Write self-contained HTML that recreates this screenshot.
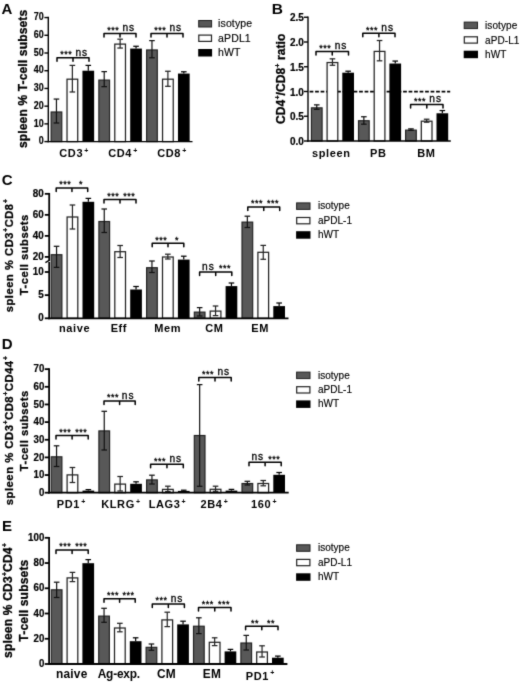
<!DOCTYPE html>
<html><head><meta charset="utf-8"><title>Figure</title>
<style>
html,body{margin:0;padding:0;background:#fff;}
body{width:520px;height:682px;overflow:hidden;}
svg{display:block;font-family:"Liberation Sans",sans-serif;fill:#000;}
</style></head><body>
<svg width="520" height="682" viewBox="0 0 520 682">
<defs><filter id="soft" x="0" y="0" width="520" height="682" filterUnits="userSpaceOnUse" color-interpolation-filters="sRGB"><feConvolveMatrix order="3" kernelMatrix="1 4 1 4 30 4 1 4 1" divisor="50" edgeMode="duplicate" preserveAlpha="true"/></filter></defs>
<g filter="url(#soft)">
<rect x="0" y="0" width="520" height="682" fill="#fff"/>
<text x="1.60" y="14.20" font-size="15" font-weight="bold" text-anchor="start" >A</text>
<text x="0" y="0" font-size="10.5" font-weight="bold" text-anchor="end" transform="translate(43.70 144.36) scale(0.85 1)" stroke="#000" stroke-width="0.2">0</text>
<text x="0" y="0" font-size="10.5" font-weight="bold" text-anchor="end" transform="translate(43.70 126.64) scale(0.85 1)" stroke="#000" stroke-width="0.2">10</text>
<text x="0" y="0" font-size="10.5" font-weight="bold" text-anchor="end" transform="translate(43.70 108.92) scale(0.85 1)" stroke="#000" stroke-width="0.2">20</text>
<text x="0" y="0" font-size="10.5" font-weight="bold" text-anchor="end" transform="translate(43.70 91.20) scale(0.85 1)" stroke="#000" stroke-width="0.2">30</text>
<text x="0" y="0" font-size="10.5" font-weight="bold" text-anchor="end" transform="translate(43.70 73.48) scale(0.85 1)" stroke="#000" stroke-width="0.2">40</text>
<text x="0" y="0" font-size="10.5" font-weight="bold" text-anchor="end" transform="translate(43.70 55.76) scale(0.85 1)" stroke="#000" stroke-width="0.2">50</text>
<text x="0" y="0" font-size="10.5" font-weight="bold" text-anchor="end" transform="translate(43.70 38.04) scale(0.85 1)" stroke="#000" stroke-width="0.2">60</text>
<text x="0" y="0" font-size="10.5" font-weight="bold" text-anchor="end" transform="translate(43.70 20.32) scale(0.85 1)" stroke="#000" stroke-width="0.2">70</text>
<rect x="51.10" y="111.98" width="10.70" height="29.62" fill="#585858" stroke="#202020" stroke-width="1.15"/>
<line x1="56.45" y1="99.07" x2="56.45" y2="122.99" stroke="#111" stroke-width="1.2" />
<line x1="53.65" y1="99.07" x2="59.25" y2="99.07" stroke="#111" stroke-width="1.25" />
<line x1="53.65" y1="122.99" x2="59.25" y2="122.99" stroke="#111" stroke-width="1.25" />
<rect x="67.02" y="79.19" width="10.70" height="62.41" fill="#fff" stroke="#222" stroke-width="1.25"/>
<line x1="72.37" y1="65.40" x2="72.37" y2="91.98" stroke="#222" stroke-width="1.2" />
<line x1="69.57" y1="65.40" x2="75.17" y2="65.40" stroke="#222" stroke-width="1.25" />
<line x1="69.57" y1="91.98" x2="75.17" y2="91.98" stroke="#222" stroke-width="1.25" />
<rect x="82.44" y="70.72" width="11.70" height="70.88" fill="#000"/>
<line x1="88.29" y1="65.40" x2="88.29" y2="70.72" stroke="#000" stroke-width="1.2" />
<line x1="85.49" y1="65.40" x2="91.09" y2="65.40" stroke="#000" stroke-width="1.25" />
<rect x="98.86" y="80.08" width="10.70" height="61.52" fill="#585858" stroke="#202020" stroke-width="1.15"/>
<line x1="104.21" y1="71.61" x2="104.21" y2="86.67" stroke="#111" stroke-width="1.2" />
<line x1="101.41" y1="71.61" x2="107.01" y2="71.61" stroke="#111" stroke-width="1.25" />
<line x1="101.41" y1="86.67" x2="107.01" y2="86.67" stroke="#111" stroke-width="1.25" />
<rect x="114.78" y="44.11" width="10.70" height="97.49" fill="#fff" stroke="#222" stroke-width="1.25"/>
<line x1="120.13" y1="39.18" x2="120.13" y2="48.04" stroke="#222" stroke-width="1.2" />
<line x1="117.33" y1="39.18" x2="122.93" y2="39.18" stroke="#222" stroke-width="1.25" />
<line x1="117.33" y1="48.04" x2="122.93" y2="48.04" stroke="#222" stroke-width="1.25" />
<rect x="130.20" y="48.57" width="11.70" height="93.03" fill="#000"/>
<line x1="136.05" y1="46.27" x2="136.05" y2="48.57" stroke="#000" stroke-width="1.2" />
<line x1="133.25" y1="46.27" x2="138.85" y2="46.27" stroke="#000" stroke-width="1.25" />
<rect x="146.62" y="49.96" width="10.70" height="91.64" fill="#585858" stroke="#202020" stroke-width="1.15"/>
<line x1="151.97" y1="40.60" x2="151.97" y2="57.78" stroke="#111" stroke-width="1.2" />
<line x1="149.17" y1="40.60" x2="154.77" y2="40.60" stroke="#111" stroke-width="1.25" />
<line x1="149.17" y1="57.78" x2="154.77" y2="57.78" stroke="#111" stroke-width="1.25" />
<rect x="162.54" y="79.19" width="10.70" height="62.41" fill="#fff" stroke="#222" stroke-width="1.25"/>
<line x1="167.89" y1="71.25" x2="167.89" y2="86.31" stroke="#222" stroke-width="1.2" />
<line x1="165.09" y1="71.25" x2="170.69" y2="71.25" stroke="#222" stroke-width="1.25" />
<line x1="165.09" y1="86.31" x2="170.69" y2="86.31" stroke="#222" stroke-width="1.25" />
<rect x="177.96" y="73.56" width="11.70" height="68.04" fill="#000"/>
<line x1="183.81" y1="71.78" x2="183.81" y2="73.56" stroke="#000" stroke-width="1.2" />
<line x1="181.01" y1="71.78" x2="186.61" y2="71.78" stroke="#000" stroke-width="1.25" />
<path d="M57.00 61.20 V57.70 H89.00 V61.20 M73.00 57.70 V61.20" fill="none" stroke="#000" stroke-width="1.5" stroke-linejoin="round" stroke-linecap="round"/>
<text x="66.20" y="57.00" font-size="9" font-weight="normal" text-anchor="middle" letter-spacing="0.5" stroke="#000" stroke-width="0.3">***</text>
<text x="81.70" y="55.50" font-size="10.2" font-weight="normal" text-anchor="middle" letter-spacing="0.9" stroke="#000" stroke-width="0.3">ns</text>
<path d="M104.00 37.00 V33.50 H136.00 V37.00 M120.00 33.50 V37.00" fill="none" stroke="#000" stroke-width="1.5" stroke-linejoin="round" stroke-linecap="round"/>
<text x="113.20" y="32.80" font-size="9" font-weight="normal" text-anchor="middle" letter-spacing="0.5" stroke="#000" stroke-width="0.3">***</text>
<text x="128.70" y="31.30" font-size="10.2" font-weight="normal" text-anchor="middle" letter-spacing="0.9" stroke="#000" stroke-width="0.3">ns</text>
<path d="M151.00 37.00 V33.50 H183.00 V37.00 M167.00 33.50 V37.00" fill="none" stroke="#000" stroke-width="1.5" stroke-linejoin="round" stroke-linecap="round"/>
<text x="160.20" y="32.80" font-size="9" font-weight="normal" text-anchor="middle" letter-spacing="0.5" stroke="#000" stroke-width="0.3">***</text>
<text x="175.70" y="31.30" font-size="10.2" font-weight="normal" text-anchor="middle" letter-spacing="0.9" stroke="#000" stroke-width="0.3">ns</text>
<text x="74.20" y="157.40" font-size="11" font-weight="bold" text-anchor="middle" letter-spacing="0.6">CD3<tspan font-size="7" dy="-4.6" dx="1.2">+</tspan></text>
<text x="123.00" y="157.40" font-size="11" font-weight="bold" text-anchor="middle" letter-spacing="0.6">CD4<tspan font-size="7" dy="-4.6" dx="1.2">+</tspan></text>
<text x="172.00" y="157.40" font-size="11" font-weight="bold" text-anchor="middle" letter-spacing="0.6">CD8<tspan font-size="7" dy="-4.6" dx="1.2">+</tspan></text>
<text x="26.80" y="78.90" font-size="12" font-weight="bold" text-anchor="middle" transform="rotate(-90 26.80 78.90)" letter-spacing="0.16" stroke="#000" stroke-width="0.3">spleen % T-cell subsets</text>
<rect x="198.7" y="20.5" width="12.9" height="6.5" fill="#585858" stroke="#202020"/>
<text x="218.00" y="27.23" font-size="10.5" font-weight="normal" text-anchor="start" letter-spacing="0.15" stroke="#000" stroke-width="0.15">isotype</text>
<rect x="198.79999999999998" y="35.1" width="12.700000000000001" height="6.3" fill="#fff" stroke="#222" stroke-width="1.2"/>
<text x="218.00" y="41.73" font-size="10.5" font-weight="normal" text-anchor="start" letter-spacing="0.15" stroke="#000" stroke-width="0.15">aPDL1</text>
<rect x="198.2" y="49.0" width="13.9" height="7.5" fill="#000"/>
<text x="218.00" y="56.23" font-size="10.5" font-weight="normal" text-anchor="start" letter-spacing="0.15" stroke="#000" stroke-width="0.15">hWT</text>
<text x="271.70" y="14.20" font-size="15.5" font-weight="bold" text-anchor="start" >B</text>
<text x="303.90" y="145.08" font-size="10" font-weight="bold" text-anchor="end" stroke="#000" stroke-width="0.2">0.0</text>
<text x="303.90" y="120.33" font-size="10" font-weight="bold" text-anchor="end" stroke="#000" stroke-width="0.2">0.5</text>
<text x="303.90" y="95.58" font-size="10" font-weight="bold" text-anchor="end" stroke="#000" stroke-width="0.2">1.0</text>
<text x="303.90" y="70.83" font-size="10" font-weight="bold" text-anchor="end" stroke="#000" stroke-width="0.2">1.5</text>
<text x="303.90" y="46.08" font-size="10" font-weight="bold" text-anchor="end" stroke="#000" stroke-width="0.2">2.0</text>
<text x="303.90" y="21.33" font-size="10" font-weight="bold" text-anchor="end" stroke="#000" stroke-width="0.2">2.5</text>
<line x1="308.00" y1="91.70" x2="450.20" y2="91.70" stroke="#000" stroke-width="1.8" stroke-dasharray="3.75 1.75" stroke-dashoffset="3.9"/>
<rect x="311.40" y="107.84" width="10.70" height="33.16" fill="#585858" stroke="#202020" stroke-width="1.15"/>
<line x1="316.75" y1="104.87" x2="316.75" y2="109.32" stroke="#111" stroke-width="1.2" />
<line x1="313.95" y1="104.87" x2="319.55" y2="104.87" stroke="#111" stroke-width="1.25" />
<line x1="313.95" y1="109.32" x2="319.55" y2="109.32" stroke="#111" stroke-width="1.25" />
<rect x="327.10" y="62.55" width="10.70" height="78.45" fill="#fff" stroke="#222" stroke-width="1.25"/>
<line x1="332.45" y1="58.83" x2="332.45" y2="65.27" stroke="#222" stroke-width="1.2" />
<line x1="329.65" y1="58.83" x2="335.25" y2="58.83" stroke="#222" stroke-width="1.25" />
<line x1="329.65" y1="65.27" x2="335.25" y2="65.27" stroke="#222" stroke-width="1.25" />
<rect x="342.30" y="72.69" width="11.70" height="68.31" fill="#000"/>
<line x1="348.15" y1="71.20" x2="348.15" y2="72.69" stroke="#000" stroke-width="1.2" />
<line x1="345.35" y1="71.20" x2="350.95" y2="71.20" stroke="#000" stroke-width="1.25" />
<rect x="358.50" y="120.71" width="10.70" height="20.29" fill="#585858" stroke="#202020" stroke-width="1.15"/>
<line x1="363.85" y1="116.75" x2="363.85" y2="124.17" stroke="#111" stroke-width="1.2" />
<line x1="361.05" y1="116.75" x2="366.65" y2="116.75" stroke="#111" stroke-width="1.25" />
<line x1="361.05" y1="124.17" x2="366.65" y2="124.17" stroke="#111" stroke-width="1.25" />
<rect x="374.20" y="51.41" width="10.70" height="89.59" fill="#fff" stroke="#222" stroke-width="1.25"/>
<line x1="379.55" y1="40.52" x2="379.55" y2="60.81" stroke="#222" stroke-width="1.2" />
<line x1="376.75" y1="40.52" x2="382.35" y2="40.52" stroke="#222" stroke-width="1.25" />
<line x1="376.75" y1="60.81" x2="382.35" y2="60.81" stroke="#222" stroke-width="1.25" />
<rect x="389.40" y="63.53" width="11.70" height="77.47" fill="#000"/>
<line x1="395.25" y1="61.06" x2="395.25" y2="63.53" stroke="#000" stroke-width="1.2" />
<line x1="392.45" y1="61.06" x2="398.05" y2="61.06" stroke="#000" stroke-width="1.25" />
<rect x="405.60" y="130.12" width="10.70" height="10.88" fill="#585858" stroke="#202020" stroke-width="1.15"/>
<line x1="410.95" y1="128.87" x2="410.95" y2="130.36" stroke="#111" stroke-width="1.2" />
<line x1="408.15" y1="128.87" x2="413.75" y2="128.87" stroke="#111" stroke-width="1.25" />
<line x1="408.15" y1="130.36" x2="413.75" y2="130.36" stroke="#111" stroke-width="1.25" />
<rect x="421.30" y="121.20" width="10.70" height="19.80" fill="#fff" stroke="#222" stroke-width="1.25"/>
<line x1="426.65" y1="119.22" x2="426.65" y2="122.19" stroke="#222" stroke-width="1.2" />
<line x1="423.85" y1="119.22" x2="429.45" y2="119.22" stroke="#222" stroke-width="1.25" />
<line x1="423.85" y1="122.19" x2="429.45" y2="122.19" stroke="#222" stroke-width="1.25" />
<rect x="436.50" y="113.28" width="11.70" height="27.72" fill="#000"/>
<line x1="442.35" y1="110.56" x2="442.35" y2="113.28" stroke="#000" stroke-width="1.2" />
<line x1="439.55" y1="110.56" x2="445.15" y2="110.56" stroke="#000" stroke-width="1.25" />
<path d="M316.00 55.00 V51.50 H348.50 V55.00 M332.25 51.50 V55.00" fill="none" stroke="#000" stroke-width="1.5" stroke-linejoin="round" stroke-linecap="round"/>
<text x="325.32" y="50.80" font-size="9" font-weight="normal" text-anchor="middle" letter-spacing="0.5" stroke="#000" stroke-width="0.3">***</text>
<text x="341.07" y="49.30" font-size="10.2" font-weight="normal" text-anchor="middle" letter-spacing="0.9" stroke="#000" stroke-width="0.3">ns</text>
<path d="M362.80 36.70 V33.20 H395.00 V36.70 M378.90 33.20 V36.70" fill="none" stroke="#000" stroke-width="1.5" stroke-linejoin="round" stroke-linecap="round"/>
<text x="372.05" y="32.50" font-size="9" font-weight="normal" text-anchor="middle" letter-spacing="0.5" stroke="#000" stroke-width="0.3">***</text>
<text x="387.65" y="31.00" font-size="10.2" font-weight="normal" text-anchor="middle" letter-spacing="0.9" stroke="#000" stroke-width="0.3">ns</text>
<path d="M410.60 108.10 V104.60 H443.00 V108.10 M426.80 104.60 V108.10" fill="none" stroke="#000" stroke-width="1.5" stroke-linejoin="round" stroke-linecap="round"/>
<text x="419.90" y="103.90" font-size="9" font-weight="normal" text-anchor="middle" letter-spacing="0.5" stroke="#000" stroke-width="0.3">***</text>
<text x="435.60" y="102.40" font-size="10.2" font-weight="normal" text-anchor="middle" letter-spacing="0.9" stroke="#000" stroke-width="0.3">ns</text>
<text x="331.30" y="157.00" font-size="11" font-weight="bold" text-anchor="middle" letter-spacing="0.6">spleen</text>
<text x="378.20" y="157.00" font-size="11" font-weight="bold" text-anchor="middle" letter-spacing="0.6">PB</text>
<text x="426.40" y="157.00" font-size="11" font-weight="bold" text-anchor="middle" letter-spacing="0.6">BM</text>
<text x="284.60" y="78.75" font-size="12" font-weight="bold" text-anchor="middle" transform="rotate(-90 284.60 78.75)" letter-spacing="0.1" stroke="#000" stroke-width="0.3">CD4<tspan font-size="6.5" dy="-5.0" dx="0.3">+</tspan><tspan dy="5.0">/CD8</tspan><tspan font-size="6.5" dy="-5.0" dx="0.3">+</tspan><tspan dy="5.0"> ratio</tspan></text>
<rect x="464.2" y="22.1" width="13.3" height="6.5" fill="#585858" stroke="#202020"/>
<text x="485.00" y="28.95" font-size="10" font-weight="normal" text-anchor="start" letter-spacing="0.1" stroke="#000" stroke-width="0.15">isotype</text>
<rect x="464.3" y="36.800000000000004" width="13.100000000000001" height="6.3" fill="#fff" stroke="#222" stroke-width="1.2"/>
<text x="485.00" y="43.55" font-size="10" font-weight="normal" text-anchor="start" letter-spacing="0.1" stroke="#000" stroke-width="0.15">aPD-L1</text>
<rect x="463.7" y="50.7" width="14.3" height="7.5" fill="#000"/>
<text x="485.00" y="58.05" font-size="10" font-weight="normal" text-anchor="start" letter-spacing="0.1" stroke="#000" stroke-width="0.15">hWT</text>
<text x="1.80" y="185.30" font-size="15" font-weight="bold" text-anchor="start" >C</text>
<text x="0" y="0" font-size="10.2" font-weight="bold" text-anchor="end" transform="translate(43.80 196.89) scale(0.97 1)" stroke="#000" stroke-width="0.2">80</text>
<text x="0" y="0" font-size="10.2" font-weight="bold" text-anchor="end" transform="translate(43.80 217.91) scale(0.97 1)" stroke="#000" stroke-width="0.2">60</text>
<text x="0" y="0" font-size="10.2" font-weight="bold" text-anchor="end" transform="translate(43.80 238.93) scale(0.97 1)" stroke="#000" stroke-width="0.2">40</text>
<text x="0" y="0" font-size="10.2" font-weight="bold" text-anchor="end" transform="translate(43.80 259.95) scale(0.97 1)" stroke="#000" stroke-width="0.2">20</text>
<text x="0" y="0" font-size="10.2" font-weight="bold" text-anchor="end" transform="translate(43.80 275.05) scale(0.97 1)" stroke="#000" stroke-width="0.2">10</text>
<text x="0" y="0" font-size="10.2" font-weight="bold" text-anchor="end" transform="translate(43.80 298.20) scale(0.97 1)" stroke="#000" stroke-width="0.2">5</text>
<text x="0" y="0" font-size="10.2" font-weight="bold" text-anchor="end" transform="translate(43.80 321.35) scale(0.97 1)" stroke="#000" stroke-width="0.2">0</text>
<rect x="51.20" y="254.70" width="10.70" height="63.60" fill="#585858" stroke="#202020" stroke-width="1.15"/>
<line x1="56.55" y1="246.30" x2="56.55" y2="267.40" stroke="#111" stroke-width="1.2" />
<line x1="53.75" y1="246.30" x2="59.35" y2="246.30" stroke="#111" stroke-width="1.25" />
<line x1="53.75" y1="267.40" x2="59.35" y2="267.40" stroke="#111" stroke-width="1.25" />
<rect x="67.10" y="217.00" width="10.70" height="101.30" fill="#fff" stroke="#222" stroke-width="1.25"/>
<line x1="72.45" y1="205.00" x2="72.45" y2="229.00" stroke="#222" stroke-width="1.2" />
<line x1="69.65" y1="205.00" x2="75.25" y2="205.00" stroke="#222" stroke-width="1.25" />
<line x1="69.65" y1="229.00" x2="75.25" y2="229.00" stroke="#222" stroke-width="1.25" />
<rect x="82.50" y="201.80" width="11.70" height="116.50" fill="#000"/>
<line x1="88.35" y1="198.40" x2="88.35" y2="201.80" stroke="#000" stroke-width="1.2" />
<line x1="85.55" y1="198.40" x2="91.15" y2="198.40" stroke="#000" stroke-width="1.25" />
<rect x="98.90" y="221.50" width="10.70" height="96.80" fill="#585858" stroke="#202020" stroke-width="1.15"/>
<line x1="104.25" y1="209.00" x2="104.25" y2="232.50" stroke="#111" stroke-width="1.2" />
<line x1="101.45" y1="209.00" x2="107.05" y2="209.00" stroke="#111" stroke-width="1.25" />
<line x1="101.45" y1="232.50" x2="107.05" y2="232.50" stroke="#111" stroke-width="1.25" />
<rect x="114.80" y="251.70" width="10.70" height="66.60" fill="#fff" stroke="#222" stroke-width="1.25"/>
<line x1="120.15" y1="245.50" x2="120.15" y2="257.50" stroke="#222" stroke-width="1.2" />
<line x1="117.35" y1="245.50" x2="122.95" y2="245.50" stroke="#222" stroke-width="1.25" />
<line x1="117.35" y1="257.50" x2="122.95" y2="257.50" stroke="#222" stroke-width="1.25" />
<rect x="130.20" y="289.50" width="11.70" height="28.80" fill="#000"/>
<line x1="136.05" y1="286.50" x2="136.05" y2="289.50" stroke="#000" stroke-width="1.2" />
<line x1="133.25" y1="286.50" x2="138.85" y2="286.50" stroke="#000" stroke-width="1.25" />
<rect x="146.60" y="267.70" width="10.70" height="50.60" fill="#585858" stroke="#202020" stroke-width="1.15"/>
<line x1="151.95" y1="261.00" x2="151.95" y2="272.50" stroke="#111" stroke-width="1.2" />
<line x1="149.15" y1="261.00" x2="154.75" y2="261.00" stroke="#111" stroke-width="1.25" />
<line x1="149.15" y1="272.50" x2="154.75" y2="272.50" stroke="#111" stroke-width="1.25" />
<rect x="162.50" y="257.00" width="10.70" height="61.30" fill="#fff" stroke="#222" stroke-width="1.25"/>
<line x1="167.85" y1="254.20" x2="167.85" y2="259.00" stroke="#222" stroke-width="1.2" />
<line x1="165.05" y1="254.20" x2="170.65" y2="254.20" stroke="#222" stroke-width="1.25" />
<line x1="165.05" y1="259.00" x2="170.65" y2="259.00" stroke="#222" stroke-width="1.25" />
<rect x="177.90" y="259.60" width="11.70" height="58.70" fill="#000"/>
<line x1="183.75" y1="256.20" x2="183.75" y2="259.60" stroke="#000" stroke-width="1.2" />
<line x1="180.95" y1="256.20" x2="186.55" y2="256.20" stroke="#000" stroke-width="1.25" />
<rect x="194.30" y="312.10" width="10.70" height="6.20" fill="#585858" stroke="#202020" stroke-width="1.15"/>
<line x1="199.65" y1="307.60" x2="199.65" y2="316.00" stroke="#111" stroke-width="1.2" />
<line x1="196.85" y1="307.60" x2="202.45" y2="307.60" stroke="#111" stroke-width="1.25" />
<line x1="196.85" y1="316.00" x2="202.45" y2="316.00" stroke="#111" stroke-width="1.25" />
<rect x="210.20" y="311.10" width="10.70" height="7.20" fill="#fff" stroke="#222" stroke-width="1.25"/>
<line x1="215.55" y1="306.00" x2="215.55" y2="315.60" stroke="#222" stroke-width="1.2" />
<line x1="212.75" y1="306.00" x2="218.35" y2="306.00" stroke="#222" stroke-width="1.25" />
<line x1="212.75" y1="315.60" x2="218.35" y2="315.60" stroke="#222" stroke-width="1.25" />
<rect x="225.60" y="286.10" width="11.70" height="32.20" fill="#000"/>
<line x1="231.45" y1="283.00" x2="231.45" y2="286.10" stroke="#000" stroke-width="1.2" />
<line x1="228.65" y1="283.00" x2="234.25" y2="283.00" stroke="#000" stroke-width="1.25" />
<rect x="242.00" y="222.10" width="10.70" height="96.20" fill="#585858" stroke="#202020" stroke-width="1.15"/>
<line x1="247.35" y1="216.20" x2="247.35" y2="227.50" stroke="#111" stroke-width="1.2" />
<line x1="244.55" y1="216.20" x2="250.15" y2="216.20" stroke="#111" stroke-width="1.25" />
<line x1="244.55" y1="227.50" x2="250.15" y2="227.50" stroke="#111" stroke-width="1.25" />
<rect x="257.90" y="252.30" width="10.70" height="66.00" fill="#fff" stroke="#222" stroke-width="1.25"/>
<line x1="263.25" y1="245.40" x2="263.25" y2="259.30" stroke="#222" stroke-width="1.2" />
<line x1="260.45" y1="245.40" x2="266.05" y2="245.40" stroke="#222" stroke-width="1.25" />
<line x1="260.45" y1="259.30" x2="266.05" y2="259.30" stroke="#222" stroke-width="1.25" />
<rect x="273.30" y="306.10" width="11.70" height="12.20" fill="#000"/>
<line x1="279.15" y1="303.00" x2="279.15" y2="306.10" stroke="#000" stroke-width="1.2" />
<line x1="276.35" y1="303.00" x2="281.95" y2="303.00" stroke="#000" stroke-width="1.25" />
<path d="M56.20 191.50 V188.00 H87.70 V191.50 M71.95 188.00 V191.50" fill="none" stroke="#000" stroke-width="1.5" stroke-linejoin="round" stroke-linecap="round"/>
<text x="65.28" y="187.30" font-size="9" font-weight="normal" text-anchor="middle" letter-spacing="0.5" stroke="#000" stroke-width="0.3">***</text>
<text x="81.03" y="187.30" font-size="9" font-weight="normal" text-anchor="middle" letter-spacing="0.5" stroke="#000" stroke-width="0.3">*</text>
<path d="M104.00 202.90 V199.40 H136.00 V202.90 M120.00 199.40 V202.90" fill="none" stroke="#000" stroke-width="1.5" stroke-linejoin="round" stroke-linecap="round"/>
<text x="113.20" y="198.70" font-size="9" font-weight="normal" text-anchor="middle" letter-spacing="0.5" stroke="#000" stroke-width="0.3">***</text>
<text x="129.20" y="198.70" font-size="9" font-weight="normal" text-anchor="middle" letter-spacing="0.5" stroke="#000" stroke-width="0.3">***</text>
<path d="M152.20 246.70 V243.20 H183.80 V246.70 M168.00 243.20 V246.70" fill="none" stroke="#000" stroke-width="1.5" stroke-linejoin="round" stroke-linecap="round"/>
<text x="161.30" y="242.50" font-size="9" font-weight="normal" text-anchor="middle" letter-spacing="0.5" stroke="#000" stroke-width="0.3">***</text>
<text x="177.10" y="242.50" font-size="9" font-weight="normal" text-anchor="middle" letter-spacing="0.5" stroke="#000" stroke-width="0.3">*</text>
<path d="M199.60 275.50 V272.00 H231.80 V275.50 M215.70 272.00 V275.50" fill="none" stroke="#000" stroke-width="1.5" stroke-linejoin="round" stroke-linecap="round"/>
<text x="208.35" y="269.80" font-size="10.2" font-weight="normal" text-anchor="middle" letter-spacing="0.9" stroke="#000" stroke-width="0.3">ns</text>
<text x="224.95" y="271.30" font-size="9" font-weight="normal" text-anchor="middle" letter-spacing="0.5" stroke="#000" stroke-width="0.3">***</text>
<path d="M247.80 210.50 V207.00 H279.70 V210.50 M263.75 207.00 V210.50" fill="none" stroke="#000" stroke-width="1.5" stroke-linejoin="round" stroke-linecap="round"/>
<text x="256.98" y="206.30" font-size="9" font-weight="normal" text-anchor="middle" letter-spacing="0.5" stroke="#000" stroke-width="0.3">***</text>
<text x="272.93" y="206.30" font-size="9" font-weight="normal" text-anchor="middle" letter-spacing="0.5" stroke="#000" stroke-width="0.3">***</text>
<text x="74.60" y="332.20" font-size="11" font-weight="bold" text-anchor="middle" letter-spacing="0.6">naive</text>
<text x="118.90" y="332.20" font-size="11" font-weight="bold" text-anchor="middle" letter-spacing="0.6">Eff</text>
<text x="167.60" y="332.20" font-size="11" font-weight="bold" text-anchor="middle" letter-spacing="0.6">Mem</text>
<text x="214.40" y="332.20" font-size="11" font-weight="bold" text-anchor="middle" letter-spacing="0.6">CM</text>
<text x="260.20" y="332.20" font-size="11" font-weight="bold" text-anchor="middle" letter-spacing="0.6">EM</text>
<text x="13.20" y="255.50" font-size="11" font-weight="bold" text-anchor="middle" transform="rotate(-90 13.20 255.50)" letter-spacing="0.63" stroke="#000" stroke-width="0.3">spleen % CD3<tspan font-size="6.5" dy="-5.6" dx="0.3">+</tspan><tspan dy="5.6">CD8</tspan><tspan font-size="6.5" dy="-5.6" dx="0.3">+</tspan></text>
<text x="27.60" y="254.70" font-size="11.2" font-weight="bold" text-anchor="middle" transform="rotate(-90 27.60 254.70)" letter-spacing="0.5" stroke="#000" stroke-width="0.3">T-cell subsets</text>
<rect x="296.6" y="202.9" width="13.4" height="6.5" fill="#585858" stroke="#202020"/>
<text x="0" y="0" font-size="10.5" font-weight="normal" text-anchor="start" transform="translate(318.00 209.33) scale(0.955 1)" letter-spacing="0.0" stroke="#000" stroke-width="0.15">isotype</text>
<rect x="296.70000000000005" y="217.5" width="13.200000000000001" height="6.3" fill="#fff" stroke="#222" stroke-width="1.2"/>
<text x="0" y="0" font-size="10.5" font-weight="normal" text-anchor="start" transform="translate(318.00 223.83) scale(0.955 1)" letter-spacing="0.0" stroke="#000" stroke-width="0.15">aPDL-1</text>
<rect x="296.1" y="231.2" width="14.4" height="7.5" fill="#000"/>
<text x="0" y="0" font-size="10.5" font-weight="normal" text-anchor="start" transform="translate(318.00 238.13) scale(0.955 1)" letter-spacing="0.0" stroke="#000" stroke-width="0.15">hWT</text>
<text x="1.80" y="348.80" font-size="15" font-weight="bold" text-anchor="start" >D</text>
<text x="0" y="0" font-size="10.0" font-weight="bold" text-anchor="end" transform="translate(44.30 495.88) scale(0.97 1)" stroke="#000" stroke-width="0.2">0</text>
<text x="0" y="0" font-size="10.0" font-weight="bold" text-anchor="end" transform="translate(44.30 478.23) scale(0.97 1)" stroke="#000" stroke-width="0.2">10</text>
<text x="0" y="0" font-size="10.0" font-weight="bold" text-anchor="end" transform="translate(44.30 460.58) scale(0.97 1)" stroke="#000" stroke-width="0.2">20</text>
<text x="0" y="0" font-size="10.0" font-weight="bold" text-anchor="end" transform="translate(44.30 442.93) scale(0.97 1)" stroke="#000" stroke-width="0.2">30</text>
<text x="0" y="0" font-size="10.0" font-weight="bold" text-anchor="end" transform="translate(44.30 425.28) scale(0.97 1)" stroke="#000" stroke-width="0.2">40</text>
<text x="0" y="0" font-size="10.0" font-weight="bold" text-anchor="end" transform="translate(44.30 407.63) scale(0.97 1)" stroke="#000" stroke-width="0.2">50</text>
<text x="0" y="0" font-size="10.0" font-weight="bold" text-anchor="end" transform="translate(44.30 389.98) scale(0.97 1)" stroke="#000" stroke-width="0.2">60</text>
<text x="0" y="0" font-size="10.0" font-weight="bold" text-anchor="end" transform="translate(44.30 372.33) scale(0.97 1)" stroke="#000" stroke-width="0.2">70</text>
<rect x="51.20" y="456.80" width="10.70" height="35.90" fill="#585858" stroke="#202020" stroke-width="1.15"/>
<line x1="56.55" y1="445.80" x2="56.55" y2="466.50" stroke="#111" stroke-width="1.2" />
<line x1="53.75" y1="445.80" x2="59.35" y2="445.80" stroke="#111" stroke-width="1.25" />
<line x1="53.75" y1="466.50" x2="59.35" y2="466.50" stroke="#111" stroke-width="1.25" />
<rect x="67.10" y="474.90" width="10.70" height="17.80" fill="#fff" stroke="#222" stroke-width="1.25"/>
<line x1="72.45" y1="467.50" x2="72.45" y2="482.50" stroke="#222" stroke-width="1.2" />
<line x1="69.65" y1="467.50" x2="75.25" y2="467.50" stroke="#222" stroke-width="1.25" />
<line x1="69.65" y1="482.50" x2="75.25" y2="482.50" stroke="#222" stroke-width="1.25" />
<rect x="82.50" y="490.60" width="11.70" height="2.10" fill="#000"/>
<line x1="88.35" y1="489.60" x2="88.35" y2="490.60" stroke="#000" stroke-width="1.2" />
<line x1="85.55" y1="489.60" x2="91.15" y2="489.60" stroke="#000" stroke-width="1.25" />
<rect x="98.90" y="430.90" width="10.70" height="61.80" fill="#585858" stroke="#202020" stroke-width="1.15"/>
<line x1="104.25" y1="411.30" x2="104.25" y2="450.00" stroke="#111" stroke-width="1.2" />
<line x1="101.45" y1="411.30" x2="107.05" y2="411.30" stroke="#111" stroke-width="1.25" />
<line x1="101.45" y1="450.00" x2="107.05" y2="450.00" stroke="#111" stroke-width="1.25" />
<rect x="114.80" y="484.10" width="10.70" height="8.60" fill="#fff" stroke="#222" stroke-width="1.25"/>
<line x1="120.15" y1="476.50" x2="120.15" y2="491.00" stroke="#222" stroke-width="1.2" />
<line x1="117.35" y1="476.50" x2="122.95" y2="476.50" stroke="#222" stroke-width="1.25" />
<line x1="117.35" y1="491.00" x2="122.95" y2="491.00" stroke="#222" stroke-width="1.25" />
<rect x="130.20" y="483.80" width="11.70" height="8.90" fill="#000"/>
<line x1="136.05" y1="481.80" x2="136.05" y2="483.80" stroke="#000" stroke-width="1.2" />
<line x1="133.25" y1="481.80" x2="138.85" y2="481.80" stroke="#000" stroke-width="1.25" />
<rect x="146.60" y="479.90" width="10.70" height="12.80" fill="#585858" stroke="#202020" stroke-width="1.15"/>
<line x1="151.95" y1="475.20" x2="151.95" y2="484.00" stroke="#111" stroke-width="1.2" />
<line x1="149.15" y1="475.20" x2="154.75" y2="475.20" stroke="#111" stroke-width="1.25" />
<line x1="149.15" y1="484.00" x2="154.75" y2="484.00" stroke="#111" stroke-width="1.25" />
<rect x="162.50" y="489.40" width="10.70" height="3.30" fill="#fff" stroke="#222" stroke-width="1.25"/>
<line x1="167.85" y1="486.20" x2="167.85" y2="491.50" stroke="#222" stroke-width="1.2" />
<line x1="165.05" y1="486.20" x2="170.65" y2="486.20" stroke="#222" stroke-width="1.25" />
<line x1="165.05" y1="491.50" x2="170.65" y2="491.50" stroke="#222" stroke-width="1.25" />
<rect x="177.90" y="490.90" width="11.70" height="1.80" fill="#000"/>
<line x1="183.75" y1="490.20" x2="183.75" y2="490.90" stroke="#000" stroke-width="1.2" />
<line x1="180.95" y1="490.20" x2="186.55" y2="490.20" stroke="#000" stroke-width="1.25" />
<rect x="194.30" y="435.50" width="10.70" height="57.20" fill="#585858" stroke="#202020" stroke-width="1.15"/>
<line x1="199.65" y1="384.60" x2="199.65" y2="486.30" stroke="#111" stroke-width="1.2" />
<line x1="196.85" y1="384.60" x2="202.45" y2="384.60" stroke="#111" stroke-width="1.25" />
<line x1="196.85" y1="486.30" x2="202.45" y2="486.30" stroke="#111" stroke-width="1.25" />
<rect x="210.20" y="489.30" width="10.70" height="3.40" fill="#fff" stroke="#222" stroke-width="1.25"/>
<line x1="215.55" y1="486.20" x2="215.55" y2="491.30" stroke="#222" stroke-width="1.2" />
<line x1="212.75" y1="486.20" x2="218.35" y2="486.20" stroke="#222" stroke-width="1.25" />
<line x1="212.75" y1="491.30" x2="218.35" y2="491.30" stroke="#222" stroke-width="1.25" />
<rect x="225.60" y="490.60" width="11.70" height="2.10" fill="#000"/>
<line x1="231.45" y1="489.40" x2="231.45" y2="490.60" stroke="#000" stroke-width="1.2" />
<line x1="228.65" y1="489.40" x2="234.25" y2="489.40" stroke="#000" stroke-width="1.25" />
<rect x="242.00" y="483.50" width="10.70" height="9.20" fill="#585858" stroke="#202020" stroke-width="1.15"/>
<line x1="247.35" y1="481.30" x2="247.35" y2="485.00" stroke="#111" stroke-width="1.2" />
<line x1="244.55" y1="481.30" x2="250.15" y2="481.30" stroke="#111" stroke-width="1.25" />
<line x1="244.55" y1="485.00" x2="250.15" y2="485.00" stroke="#111" stroke-width="1.25" />
<rect x="257.90" y="483.50" width="10.70" height="9.20" fill="#fff" stroke="#222" stroke-width="1.25"/>
<line x1="263.25" y1="480.50" x2="263.25" y2="485.80" stroke="#222" stroke-width="1.2" />
<line x1="260.45" y1="480.50" x2="266.05" y2="480.50" stroke="#222" stroke-width="1.25" />
<line x1="260.45" y1="485.80" x2="266.05" y2="485.80" stroke="#222" stroke-width="1.25" />
<rect x="273.30" y="474.80" width="11.70" height="17.90" fill="#000"/>
<line x1="279.15" y1="472.50" x2="279.15" y2="474.80" stroke="#000" stroke-width="1.2" />
<line x1="276.35" y1="472.50" x2="281.95" y2="472.50" stroke="#000" stroke-width="1.25" />
<path d="M56.00 439.00 V435.50 H88.20 V439.00 M72.10 435.50 V439.00" fill="none" stroke="#000" stroke-width="1.5" stroke-linejoin="round" stroke-linecap="round"/>
<text x="65.25" y="434.80" font-size="9" font-weight="normal" text-anchor="middle" letter-spacing="0.5" stroke="#000" stroke-width="0.3">***</text>
<text x="81.35" y="434.80" font-size="9" font-weight="normal" text-anchor="middle" letter-spacing="0.5" stroke="#000" stroke-width="0.3">***</text>
<path d="M104.00 404.60 V401.10 H135.20 V404.60 M119.60 401.10 V404.60" fill="none" stroke="#000" stroke-width="1.5" stroke-linejoin="round" stroke-linecap="round"/>
<text x="113.00" y="400.40" font-size="9" font-weight="normal" text-anchor="middle" letter-spacing="0.5" stroke="#000" stroke-width="0.3">***</text>
<text x="128.10" y="398.90" font-size="10.2" font-weight="normal" text-anchor="middle" letter-spacing="0.9" stroke="#000" stroke-width="0.3">ns</text>
<path d="M150.60 467.70 V464.20 H183.30 V467.70 M166.95 464.20 V467.70" fill="none" stroke="#000" stroke-width="1.5" stroke-linejoin="round" stroke-linecap="round"/>
<text x="159.97" y="463.50" font-size="9" font-weight="normal" text-anchor="middle" letter-spacing="0.5" stroke="#000" stroke-width="0.3">***</text>
<text x="175.82" y="462.00" font-size="10.2" font-weight="normal" text-anchor="middle" letter-spacing="0.9" stroke="#000" stroke-width="0.3">ns</text>
<path d="M198.80 381.00 V377.50 H231.20 V381.00 M215.00 377.50 V381.00" fill="none" stroke="#000" stroke-width="1.5" stroke-linejoin="round" stroke-linecap="round"/>
<text x="208.10" y="376.80" font-size="9" font-weight="normal" text-anchor="middle" letter-spacing="0.5" stroke="#000" stroke-width="0.3">***</text>
<text x="223.80" y="375.30" font-size="10.2" font-weight="normal" text-anchor="middle" letter-spacing="0.9" stroke="#000" stroke-width="0.3">ns</text>
<path d="M249.00 465.70 V462.20 H281.20 V465.70 M265.10 462.20 V465.70" fill="none" stroke="#000" stroke-width="1.5" stroke-linejoin="round" stroke-linecap="round"/>
<text x="257.75" y="460.00" font-size="10.2" font-weight="normal" text-anchor="middle" letter-spacing="0.9" stroke="#000" stroke-width="0.3">ns</text>
<text x="274.35" y="461.50" font-size="9" font-weight="normal" text-anchor="middle" letter-spacing="0.5" stroke="#000" stroke-width="0.3">***</text>
<text x="71.30" y="508.10" font-size="11" font-weight="bold" text-anchor="middle" letter-spacing="0.6">PD1<tspan font-size="7" dy="-4.6" dx="1.2">+</tspan></text>
<text x="121.00" y="508.10" font-size="11" font-weight="bold" text-anchor="middle" letter-spacing="0.6">KLRG<tspan font-size="7" dy="-4.6" dx="1.2">+</tspan></text>
<text x="167.50" y="508.10" font-size="11" font-weight="bold" text-anchor="middle" letter-spacing="0.6">LAG3<tspan font-size="7" dy="-4.6" dx="1.2">+</tspan></text>
<text x="214.40" y="508.10" font-size="11" font-weight="bold" text-anchor="middle" letter-spacing="0.6">2B4<tspan font-size="7" dy="-4.6" dx="1.2">+</tspan></text>
<text x="264.10" y="508.10" font-size="11" font-weight="bold" text-anchor="middle" letter-spacing="0.6">160<tspan font-size="7" dy="-4.6" dx="1.2">+</tspan></text>
<text x="13.20" y="430.50" font-size="11.3" font-weight="bold" text-anchor="middle" transform="rotate(-90 13.20 430.50)" letter-spacing="0.5" stroke="#000" stroke-width="0.3">spleen % CD3<tspan font-size="6.5" dy="-5.6" dx="0.3">+</tspan><tspan dy="5.6">CD8</tspan><tspan font-size="6.5" dy="-5.6" dx="0.3">+</tspan><tspan dy="5.6">CD44</tspan><tspan font-size="6.5" dy="-5.6" dx="0.3">+</tspan></text>
<text x="27.60" y="430.80" font-size="11.2" font-weight="bold" text-anchor="middle" transform="rotate(-90 27.60 430.80)" letter-spacing="0.5" stroke="#000" stroke-width="0.3">T-cell subsets</text>
<rect x="296.6" y="372.1" width="13.4" height="6.5" fill="#585858" stroke="#202020"/>
<text x="0" y="0" font-size="10.5" font-weight="normal" text-anchor="start" transform="translate(318.00 378.53) scale(0.955 1)" letter-spacing="0.0" stroke="#000" stroke-width="0.15">isotype</text>
<rect x="296.70000000000005" y="386.70000000000005" width="13.200000000000001" height="6.3" fill="#fff" stroke="#222" stroke-width="1.2"/>
<text x="0" y="0" font-size="10.5" font-weight="normal" text-anchor="start" transform="translate(318.00 393.03) scale(0.955 1)" letter-spacing="0.0" stroke="#000" stroke-width="0.15">aPDL-1</text>
<rect x="296.1" y="400.4" width="14.4" height="7.5" fill="#000"/>
<text x="0" y="0" font-size="10.5" font-weight="normal" text-anchor="start" transform="translate(318.00 407.33) scale(0.955 1)" letter-spacing="0.0" stroke="#000" stroke-width="0.15">hWT</text>
<text x="1.90" y="531.40" font-size="15" font-weight="bold" text-anchor="start" >E</text>
<text x="0" y="0" font-size="10.0" font-weight="bold" text-anchor="end" transform="translate(44.30 667.18) scale(0.97 1)" stroke="#000" stroke-width="0.2">0</text>
<text x="0" y="0" font-size="10.0" font-weight="bold" text-anchor="end" transform="translate(44.30 641.94) scale(0.97 1)" stroke="#000" stroke-width="0.2">20</text>
<text x="0" y="0" font-size="10.0" font-weight="bold" text-anchor="end" transform="translate(44.30 616.70) scale(0.97 1)" stroke="#000" stroke-width="0.2">40</text>
<text x="0" y="0" font-size="10.0" font-weight="bold" text-anchor="end" transform="translate(44.30 591.46) scale(0.97 1)" stroke="#000" stroke-width="0.2">60</text>
<text x="0" y="0" font-size="10.0" font-weight="bold" text-anchor="end" transform="translate(44.30 566.22) scale(0.97 1)" stroke="#000" stroke-width="0.2">80</text>
<text x="0" y="0" font-size="10.0" font-weight="bold" text-anchor="end" transform="translate(44.30 540.98) scale(0.97 1)" stroke="#000" stroke-width="0.2">100</text>
<rect x="51.30" y="589.80" width="10.70" height="74.20" fill="#585858" stroke="#202020" stroke-width="1.15"/>
<line x1="56.65" y1="582.20" x2="56.65" y2="597.50" stroke="#111" stroke-width="1.2" />
<line x1="53.85" y1="582.20" x2="59.45" y2="582.20" stroke="#111" stroke-width="1.25" />
<line x1="53.85" y1="597.50" x2="59.45" y2="597.50" stroke="#111" stroke-width="1.25" />
<rect x="67.10" y="577.90" width="10.70" height="86.10" fill="#fff" stroke="#222" stroke-width="1.25"/>
<line x1="72.45" y1="572.40" x2="72.45" y2="581.60" stroke="#222" stroke-width="1.2" />
<line x1="69.65" y1="572.40" x2="75.25" y2="572.40" stroke="#222" stroke-width="1.25" />
<line x1="69.65" y1="581.60" x2="75.25" y2="581.60" stroke="#222" stroke-width="1.25" />
<rect x="82.40" y="563.20" width="11.70" height="100.80" fill="#000"/>
<line x1="88.25" y1="559.60" x2="88.25" y2="563.20" stroke="#000" stroke-width="1.2" />
<line x1="85.45" y1="559.60" x2="91.05" y2="559.60" stroke="#000" stroke-width="1.25" />
<rect x="98.70" y="616.10" width="10.70" height="47.90" fill="#585858" stroke="#202020" stroke-width="1.15"/>
<line x1="104.05" y1="608.30" x2="104.05" y2="622.30" stroke="#111" stroke-width="1.2" />
<line x1="101.25" y1="608.30" x2="106.85" y2="608.30" stroke="#111" stroke-width="1.25" />
<line x1="101.25" y1="622.30" x2="106.85" y2="622.30" stroke="#111" stroke-width="1.25" />
<rect x="114.50" y="628.00" width="10.70" height="36.00" fill="#fff" stroke="#222" stroke-width="1.25"/>
<line x1="119.85" y1="623.30" x2="119.85" y2="631.80" stroke="#222" stroke-width="1.2" />
<line x1="117.05" y1="623.30" x2="122.65" y2="623.30" stroke="#222" stroke-width="1.25" />
<line x1="117.05" y1="631.80" x2="122.65" y2="631.80" stroke="#222" stroke-width="1.25" />
<rect x="129.80" y="641.20" width="11.70" height="22.80" fill="#000"/>
<line x1="135.65" y1="637.80" x2="135.65" y2="641.20" stroke="#000" stroke-width="1.2" />
<line x1="132.85" y1="637.80" x2="138.45" y2="637.80" stroke="#000" stroke-width="1.25" />
<rect x="146.10" y="647.30" width="10.70" height="16.70" fill="#585858" stroke="#202020" stroke-width="1.15"/>
<line x1="151.45" y1="644.00" x2="151.45" y2="650.30" stroke="#111" stroke-width="1.2" />
<line x1="148.65" y1="644.00" x2="154.25" y2="644.00" stroke="#111" stroke-width="1.25" />
<line x1="148.65" y1="650.30" x2="154.25" y2="650.30" stroke="#111" stroke-width="1.25" />
<rect x="161.90" y="619.90" width="10.70" height="44.10" fill="#fff" stroke="#222" stroke-width="1.25"/>
<line x1="167.25" y1="612.20" x2="167.25" y2="626.60" stroke="#222" stroke-width="1.2" />
<line x1="164.45" y1="612.20" x2="170.05" y2="612.20" stroke="#222" stroke-width="1.25" />
<line x1="164.45" y1="626.60" x2="170.05" y2="626.60" stroke="#222" stroke-width="1.25" />
<rect x="177.20" y="624.40" width="11.70" height="39.60" fill="#000"/>
<line x1="183.05" y1="621.20" x2="183.05" y2="624.40" stroke="#000" stroke-width="1.2" />
<line x1="180.25" y1="621.20" x2="185.85" y2="621.20" stroke="#000" stroke-width="1.25" />
<rect x="193.50" y="626.20" width="10.70" height="37.80" fill="#585858" stroke="#202020" stroke-width="1.15"/>
<line x1="198.85" y1="617.80" x2="198.85" y2="633.60" stroke="#111" stroke-width="1.2" />
<line x1="196.05" y1="617.80" x2="201.65" y2="617.80" stroke="#111" stroke-width="1.25" />
<line x1="196.05" y1="633.60" x2="201.65" y2="633.60" stroke="#111" stroke-width="1.25" />
<rect x="209.30" y="642.30" width="10.70" height="21.70" fill="#fff" stroke="#222" stroke-width="1.25"/>
<line x1="214.65" y1="637.80" x2="214.65" y2="645.60" stroke="#222" stroke-width="1.2" />
<line x1="211.85" y1="637.80" x2="217.45" y2="637.80" stroke="#222" stroke-width="1.25" />
<line x1="211.85" y1="645.60" x2="217.45" y2="645.60" stroke="#222" stroke-width="1.25" />
<rect x="224.60" y="651.40" width="11.70" height="12.60" fill="#000"/>
<line x1="230.45" y1="649.40" x2="230.45" y2="651.40" stroke="#000" stroke-width="1.2" />
<line x1="227.65" y1="649.40" x2="233.25" y2="649.40" stroke="#000" stroke-width="1.25" />
<rect x="240.90" y="643.00" width="10.70" height="21.00" fill="#585858" stroke="#202020" stroke-width="1.15"/>
<line x1="246.25" y1="635.40" x2="246.25" y2="650.00" stroke="#111" stroke-width="1.2" />
<line x1="243.45" y1="635.40" x2="249.05" y2="635.40" stroke="#111" stroke-width="1.25" />
<line x1="243.45" y1="650.00" x2="249.05" y2="650.00" stroke="#111" stroke-width="1.25" />
<rect x="256.70" y="652.00" width="10.70" height="12.00" fill="#fff" stroke="#222" stroke-width="1.25"/>
<line x1="262.05" y1="645.80" x2="262.05" y2="657.00" stroke="#222" stroke-width="1.2" />
<line x1="259.25" y1="645.80" x2="264.85" y2="645.80" stroke="#222" stroke-width="1.25" />
<line x1="259.25" y1="657.00" x2="264.85" y2="657.00" stroke="#222" stroke-width="1.25" />
<rect x="272.00" y="657.70" width="11.70" height="6.30" fill="#000"/>
<line x1="277.85" y1="656.10" x2="277.85" y2="657.70" stroke="#000" stroke-width="1.2" />
<line x1="275.05" y1="656.10" x2="280.65" y2="656.10" stroke="#000" stroke-width="1.25" />
<path d="M56.00 553.60 V550.10 H88.20 V553.60 M72.10 550.10 V553.60" fill="none" stroke="#000" stroke-width="1.5" stroke-linejoin="round" stroke-linecap="round"/>
<text x="65.25" y="549.40" font-size="9" font-weight="normal" text-anchor="middle" letter-spacing="0.5" stroke="#000" stroke-width="0.3">***</text>
<text x="81.35" y="549.40" font-size="9" font-weight="normal" text-anchor="middle" letter-spacing="0.5" stroke="#000" stroke-width="0.3">***</text>
<path d="M104.00 602.30 V598.80 H135.20 V602.30 M119.60 598.80 V602.30" fill="none" stroke="#000" stroke-width="1.5" stroke-linejoin="round" stroke-linecap="round"/>
<text x="113.00" y="598.10" font-size="9" font-weight="normal" text-anchor="middle" letter-spacing="0.5" stroke="#000" stroke-width="0.3">***</text>
<text x="128.60" y="598.10" font-size="9" font-weight="normal" text-anchor="middle" letter-spacing="0.5" stroke="#000" stroke-width="0.3">***</text>
<path d="M152.30 607.50 V604.00 H184.40 V607.50 M168.35 604.00 V607.50" fill="none" stroke="#000" stroke-width="1.5" stroke-linejoin="round" stroke-linecap="round"/>
<text x="161.53" y="603.30" font-size="9" font-weight="normal" text-anchor="middle" letter-spacing="0.5" stroke="#000" stroke-width="0.3">***</text>
<text x="177.07" y="601.80" font-size="10.2" font-weight="normal" text-anchor="middle" letter-spacing="0.9" stroke="#000" stroke-width="0.3">ns</text>
<path d="M198.50 610.90 V607.40 H231.00 V610.90 M214.75 607.40 V610.90" fill="none" stroke="#000" stroke-width="1.5" stroke-linejoin="round" stroke-linecap="round"/>
<text x="207.82" y="606.70" font-size="9" font-weight="normal" text-anchor="middle" letter-spacing="0.5" stroke="#000" stroke-width="0.3">***</text>
<text x="224.07" y="606.70" font-size="9" font-weight="normal" text-anchor="middle" letter-spacing="0.5" stroke="#000" stroke-width="0.3">***</text>
<path d="M245.60 629.80 V626.30 H278.00 V629.80 M261.80 626.30 V629.80" fill="none" stroke="#000" stroke-width="1.5" stroke-linejoin="round" stroke-linecap="round"/>
<text x="254.90" y="625.60" font-size="9" font-weight="normal" text-anchor="middle" letter-spacing="0.5" stroke="#000" stroke-width="0.3">**</text>
<text x="271.10" y="625.60" font-size="9" font-weight="normal" text-anchor="middle" letter-spacing="0.5" stroke="#000" stroke-width="0.3">**</text>
<text x="71.80" y="677.70" font-size="11.9" font-weight="bold" text-anchor="middle" letter-spacing="0.2">naive</text>
<text x="118.80" y="677.70" font-size="11.9" font-weight="bold" text-anchor="middle" letter-spacing="-0.2">Ag-exp.</text>
<text x="166.50" y="677.70" font-size="11.9" font-weight="bold" text-anchor="middle" letter-spacing="0.3">CM</text>
<text x="212.00" y="677.70" font-size="11.9" font-weight="bold" text-anchor="middle" letter-spacing="0.3">EM</text>
<text x="260.40" y="680.00" font-size="11" font-weight="bold" text-anchor="middle" letter-spacing="0.6">PD1<tspan font-size="7" dy="-4.6" dx="1.2">+</tspan></text>
<text x="12.00" y="600.50" font-size="12" font-weight="bold" text-anchor="middle" transform="rotate(-90 12.00 600.50)" letter-spacing="0.2" stroke="#000" stroke-width="0.3">spleen % CD3<tspan font-size="6.5" dy="-5.0" dx="0.3">+</tspan><tspan dy="5.0">CD4</tspan><tspan font-size="6.5" dy="-5.0" dx="0.3">+</tspan></text>
<text x="27.80" y="600.60" font-size="12" font-weight="bold" text-anchor="middle" transform="rotate(-90 27.80 600.60)" letter-spacing="0.2" stroke="#000" stroke-width="0.3">T-cell subsets</text>
<rect x="296.6" y="544.8" width="13.4" height="6.5" fill="#585858" stroke="#202020"/>
<text x="0" y="0" font-size="10.5" font-weight="normal" text-anchor="start" transform="translate(318.00 551.23) scale(0.955 1)" letter-spacing="0.0" stroke="#000" stroke-width="0.15">isotype</text>
<rect x="296.70000000000005" y="559.4" width="13.200000000000001" height="6.3" fill="#fff" stroke="#222" stroke-width="1.2"/>
<text x="0" y="0" font-size="10.5" font-weight="normal" text-anchor="start" transform="translate(318.00 565.73) scale(0.955 1)" letter-spacing="0.0" stroke="#000" stroke-width="0.15">aPD-L1</text>
<rect x="296.1" y="573.3" width="14.4" height="7.5" fill="#000"/>
<text x="0" y="0" font-size="10.5" font-weight="normal" text-anchor="start" transform="translate(318.00 580.23) scale(0.955 1)" letter-spacing="0.0" stroke="#000" stroke-width="0.15">hWT</text>
<line x1="48.30" y1="16.86" x2="48.30" y2="142.30" stroke="#000" stroke-width="1.4" />
<line x1="44.40" y1="141.60" x2="48.30" y2="141.60" stroke="#000" stroke-width="1.4" />
<line x1="44.40" y1="123.88" x2="48.30" y2="123.88" stroke="#000" stroke-width="1.4" />
<line x1="44.40" y1="106.16" x2="48.30" y2="106.16" stroke="#000" stroke-width="1.4" />
<line x1="44.40" y1="88.44" x2="48.30" y2="88.44" stroke="#000" stroke-width="1.4" />
<line x1="44.40" y1="70.72" x2="48.30" y2="70.72" stroke="#000" stroke-width="1.4" />
<line x1="44.40" y1="53.00" x2="48.30" y2="53.00" stroke="#000" stroke-width="1.4" />
<line x1="44.40" y1="35.28" x2="48.30" y2="35.28" stroke="#000" stroke-width="1.4" />
<line x1="44.40" y1="17.56" x2="48.30" y2="17.56" stroke="#000" stroke-width="1.4" />
<line x1="47.60" y1="141.60" x2="192.50" y2="141.60" stroke="#000" stroke-width="1.4" />
<line x1="308.00" y1="16.55" x2="308.00" y2="141.70" stroke="#000" stroke-width="1.4" />
<line x1="304.00" y1="141.00" x2="308.00" y2="141.00" stroke="#000" stroke-width="1.4" />
<line x1="304.00" y1="116.25" x2="308.00" y2="116.25" stroke="#000" stroke-width="1.4" />
<line x1="304.00" y1="91.50" x2="308.00" y2="91.50" stroke="#000" stroke-width="1.4" />
<line x1="304.00" y1="66.75" x2="308.00" y2="66.75" stroke="#000" stroke-width="1.4" />
<line x1="304.00" y1="42.00" x2="308.00" y2="42.00" stroke="#000" stroke-width="1.4" />
<line x1="304.00" y1="17.25" x2="308.00" y2="17.25" stroke="#000" stroke-width="1.4" />
<line x1="307.30" y1="141.00" x2="450.80" y2="141.00" stroke="#000" stroke-width="1.4" />
<line x1="49.20" y1="192.94" x2="49.20" y2="260.90" stroke="#000" stroke-width="1.8" />
<line x1="49.20" y1="261.90" x2="49.20" y2="319.20" stroke="#000" stroke-width="1.8" />
<line x1="45.40" y1="262.70" x2="49.50" y2="260.10" stroke="#000" stroke-width="1.4" />
<line x1="44.80" y1="193.84" x2="49.20" y2="193.84" stroke="#000" stroke-width="1.8" />
<line x1="44.80" y1="214.86" x2="49.20" y2="214.86" stroke="#000" stroke-width="1.8" />
<line x1="44.80" y1="235.88" x2="49.20" y2="235.88" stroke="#000" stroke-width="1.8" />
<line x1="44.80" y1="256.90" x2="49.20" y2="256.90" stroke="#000" stroke-width="1.8" />
<line x1="44.80" y1="272.00" x2="49.20" y2="272.00" stroke="#000" stroke-width="1.8" />
<line x1="44.80" y1="295.15" x2="49.20" y2="295.15" stroke="#000" stroke-width="1.8" />
<line x1="44.80" y1="318.30" x2="49.20" y2="318.30" stroke="#000" stroke-width="1.8" />
<line x1="48.30" y1="318.30" x2="288.50" y2="318.30" stroke="#000" stroke-width="1.8" />
<line x1="49.10" y1="368.25" x2="49.10" y2="493.60" stroke="#000" stroke-width="1.8" />
<line x1="44.70" y1="492.70" x2="49.10" y2="492.70" stroke="#000" stroke-width="1.8" />
<line x1="44.70" y1="475.05" x2="49.10" y2="475.05" stroke="#000" stroke-width="1.8" />
<line x1="44.70" y1="457.40" x2="49.10" y2="457.40" stroke="#000" stroke-width="1.8" />
<line x1="44.70" y1="439.75" x2="49.10" y2="439.75" stroke="#000" stroke-width="1.8" />
<line x1="44.70" y1="422.10" x2="49.10" y2="422.10" stroke="#000" stroke-width="1.8" />
<line x1="44.70" y1="404.45" x2="49.10" y2="404.45" stroke="#000" stroke-width="1.8" />
<line x1="44.70" y1="386.80" x2="49.10" y2="386.80" stroke="#000" stroke-width="1.8" />
<line x1="44.70" y1="369.15" x2="49.10" y2="369.15" stroke="#000" stroke-width="1.8" />
<line x1="48.20" y1="492.70" x2="288.70" y2="492.70" stroke="#000" stroke-width="1.8" />
<line x1="49.10" y1="536.90" x2="49.10" y2="664.90" stroke="#000" stroke-width="1.8" />
<line x1="44.70" y1="664.00" x2="49.10" y2="664.00" stroke="#000" stroke-width="1.8" />
<line x1="44.70" y1="638.76" x2="49.10" y2="638.76" stroke="#000" stroke-width="1.8" />
<line x1="44.70" y1="613.52" x2="49.10" y2="613.52" stroke="#000" stroke-width="1.8" />
<line x1="44.70" y1="588.28" x2="49.10" y2="588.28" stroke="#000" stroke-width="1.8" />
<line x1="44.70" y1="563.04" x2="49.10" y2="563.04" stroke="#000" stroke-width="1.8" />
<line x1="44.70" y1="537.80" x2="49.10" y2="537.80" stroke="#000" stroke-width="1.8" />
<line x1="48.20" y1="664.00" x2="287.40" y2="664.00" stroke="#000" stroke-width="1.8" />
</g>
</svg>
</body></html>
